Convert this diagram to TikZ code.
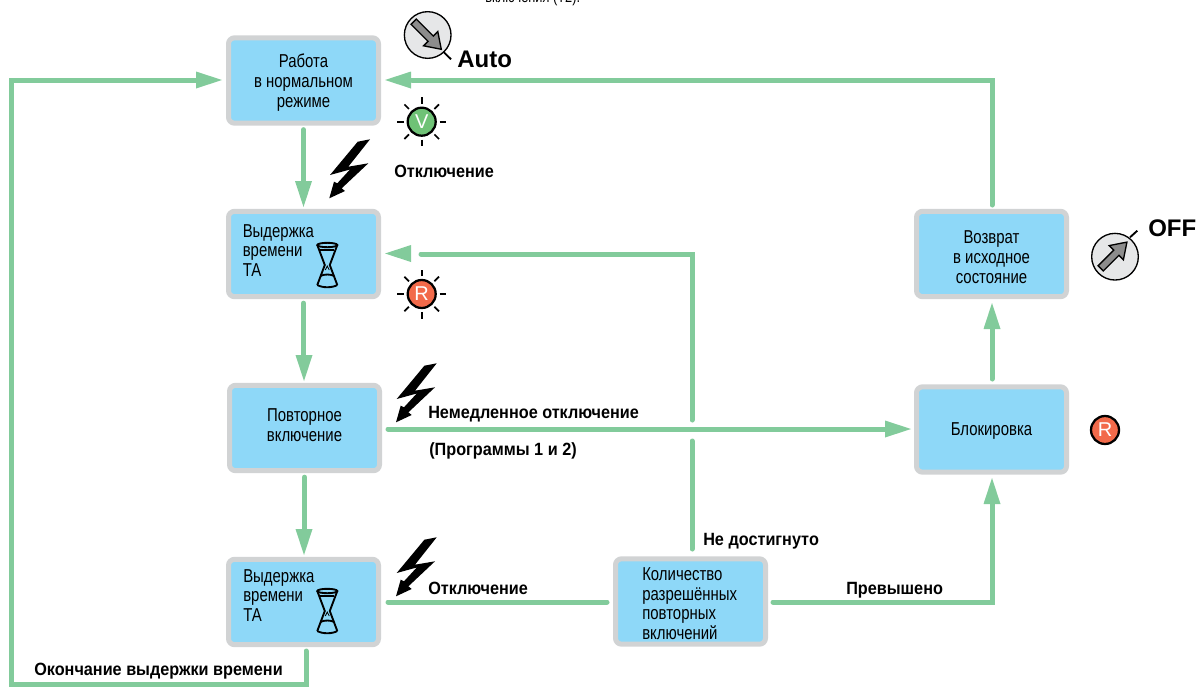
\documentclass[tikz,border=0pt]{standalone}
\usepackage{fontspec}
\setmainfont[FakeStretch=0.80]{Liberation Sans}
\newfontfamily\lblfont[FakeStretch=0.915]{Liberation Sans}
\newfontfamily\wide{Liberation Sans}
\tikzset{
  px/.style={x=0.75pt,y=-0.75pt},
  box/.style={draw=boxedge,fill=boxfill,line width=3.75pt,rounded corners=4.5pt,inner sep=0pt,minimum width=112.5pt,minimum height=64pt,align=center,font=\fontsize{14}{15}\selectfont},
  boxtext/.style={inner sep=0pt,align=left,anchor=north west,font=\fontsize{14}{14.7}\selectfont},
  lbl/.style={inner sep=0pt,anchor=base west,font=\fontsize{13.3}{15}\selectfont\lblfont\bfseries},
  big/.style={inner sep=0pt,anchor=base west,font=\fontsize{18}{20}\selectfont\wide\bfseries},
  link/.style={draw=link,line width=3.75pt,line cap=round,line join=miter},
  head/.style={fill=link,draw=none},
  ray/.style={line width=1.3pt,draw=black},
  lamp/.style={circle,draw=black,line width=1.7pt,inner sep=0pt,minimum size=21pt,text=white,font=\fontsize{15}{15}\selectfont\wide},
  knob/.style={circle,draw=black,line width=1pt,fill=knobfill,inner sep=0pt,minimum size=35pt},
}
\definecolor{boxedge}{HTML}{D1D3D4}
\definecolor{boxfill}{HTML}{8ED8F8}
\definecolor{link}{HTML}{82CB9B}
\definecolor{knobfill}{HTML}{E6E7E8}
\definecolor{needle}{HTML}{8C8C8C}
\definecolor{lampg}{HTML}{6FC276}
\definecolor{lampr}{HTML}{F26A4A}
\newcommand{\headdown}[1]{\fill[head] (#1) -- ++(-8.5,-26) -- ++(17,0) -- cycle;}
\newcommand{\headup}[1]{\fill[head] (#1) -- ++(-8.5,26) -- ++(17,0) -- cycle;}
\newcommand{\headleft}[1]{\fill[head] (#1) -- ++(26,-8.5) -- ++(0,17) -- cycle;}
\newcommand{\headright}[1]{\fill[head] (#1) -- ++(-26,-8.5) -- ++(0,17) -- cycle;}
\newcommand{\bolt}[2]{\begin{scope}[shift={(#1,#2)}]
 \fill[black] (50,9.3) -- (37.7,11.7) -- (10,45) -- (30,39.5) -- (17.3,53.3) -- (14,51.7) -- (9.3,68.3) -- (25,61) -- (21.7,58.3) -- (48.3,33.3) -- (28.3,36.7) -- cycle;
 \end{scope}}
\newcommand{\hourglass}[2]{\begin{scope}[shift={(#1,#2)},line width=1.4pt,draw=black]
 \draw (0,0) ellipse [x radius=10,y radius=2.2];
 \draw (-10,0) -- (-2.5,20) -- (-10,40);
 \draw (10,0) -- (2.5,20) -- (10,40);
 \draw (-10,40) .. controls (-5,43) and (5,43) .. (10,40);
 \draw (-7,5) -- (7,5);
 \draw (-7,31) .. controls (-3,29) and (3,29) .. (7,31);
 \draw[line width=0.6pt] (-2,25) -- (0,21) -- (2,25);
 \end{scope}}
\usetikzlibrary{calc}
\newcommand{\rays}[2]{\foreach \a in {0,45,...,315}{\draw[ray] ($(#1,#2)+(\a:18)$) -- ($(#1,#2)+(\a:24.5)$);}}
\begin{document}
\begin{tikzpicture}[px]
\useasboundingbox (0,0) rectangle (1196,686);
% boxes
\node[box] (work) at (303.5,80.5) {\rule{0pt}{14pt}Работа\\в нормальном\\режиме};
\node[box] (delayA) at (303.5,254) {};
\node[box] (reclose) at (304.5,428) {Повторное\\включение\rule[-4.5pt]{0pt}{4.5pt}};
\node[box] (delayB) at (303.5,602) {};
\node[box] (count) at (690.5,601.5) {};
\node[box] (reset) at (991.5,254) {\rule{0pt}{14pt}Возврат\\в исходное\\состояние};
\node[box] (lock) at (991.5,429.5) {\rule{0pt}{12.5pt}Блокировка};
\node[boxtext] (delayAt) at (242.5,224) {Выдержка\\времени\\ТА};
\node[boxtext] (delayBt) at (243,569) {Выдержка\\времени\\ТА};
\node[boxtext] (countt) at (642,567.5) {Количество\\разрешённых\\повторных\\включений};
\hourglass{327.3}{245}
\hourglass{327.3}{591}
% helper coordinates
\coordinate (loopA) at (306,684);
\coordinate (loopB) at (11,684);
\coordinate (loopC) at (11,80);
\coordinate (loopD) at (196,80);
\coordinate (loopE) at (692,254);
\coordinate (loopF) at (692,420);
\coordinate (loopG) at (692,441);
\coordinate (turnA) at (992,602);
\coordinate (turnB) at (992,80);
\coordinate (turnC) at (412,80);
% connectors
\draw[link] ([yshift=-3pt]work.south) -- ++(0,55);
\headdown{303.5,207}
\draw[link] ([yshift=-3pt]delayA.south) -- ++(0,55);
\headdown{304,381}
\draw[link] ([yshift=-3pt]reclose.south) -- ++(0,55);
\headdown{304,555}
\draw[link] (306,651) -- (loopA) -- (loopB) -- (loopC) -- (loopD);
\headright{222,80}
\draw[link] (388,429) -- (886,429);
\headright{911,429}
\draw[link] (607,602) -- (388,602);
\draw[link] (692,549) -- (loopG);
\draw[link] (loopF) -- (loopE) -- (421,254);
\headleft{385,253.5}
\draw[link] (773,602) -- (turnA) -- (992,504);
\headup{992,478}
\draw[link] (992,379) -- (992,329);
\headup{992,303}
\draw[link] (992,205) -- (turnB) -- (turnC);
\headleft{385,80}
% bolts
\bolt{320}{130}
\bolt{386.7}{354}
\bolt{386.7}{528}
% lamps
\node[lamp,fill=lampg] (lampV) at (421.7,121.7) {V};
\rays{421.7}{121.7}
\node[lamp,fill=lampr] (lampR) at (421.7,294) {R};
\rays{421.7}{294}
\node[lamp,fill=lampr] (lampB) at (1105,430) {R};
% knobs
\node[knob] (knobA) at (427.7,35) {};
\draw[line width=1.4pt] (443.3,51.7) -- (451,59.3);
\draw[fill=needle,line width=1pt,line join=miter] (411.1,24.3) -- (416.3,19.1) -- (433.3,36.1) -- (437.8,31.6) -- (441.3,49.3) -- (423.6,45.8) -- (428.1,41.3) -- cycle;
\node[knob] (knobB) at (1115,256.7) {};
\draw[line width=1.4pt] (1130,237.3) -- (1137.3,230.7);
\draw[fill=needle,line width=1pt,line join=miter] (1098.1,265.7) -- (1103.3,270.9) -- (1118.9,255.3) -- (1123.4,259.8) -- (1126.9,242.1) -- (1109.2,245.6) -- (1113.7,250.1) -- cycle;
% labels
\node[big] (auto) at (457,67.5) {Auto};
\node[big] (off) at (1148,236.5) {OFF};
\node[lbl] (trip) at (394,177) {Отключение};
\node[lbl] (instant) at (428,418) {Немедленное отключение};
\node[lbl] (prog) at (429,455) {(Программы 1 и 2)};
\node[lbl] (notreached) at (703,545) {Не достигнуто};
\node[lbl] (exceeded) at (846,594) {Превышено};
\node[lbl] (trip2) at (428,594) {Отключение};
\node[lbl] (endT) at (34,675) {Окончание выдержки времени};
\node[inner sep=0pt,anchor=base west,font=\fontsize{12}{14}\selectfont] (cut) at (485,2) {включения (T2).};
\end{tikzpicture}
\end{document}
